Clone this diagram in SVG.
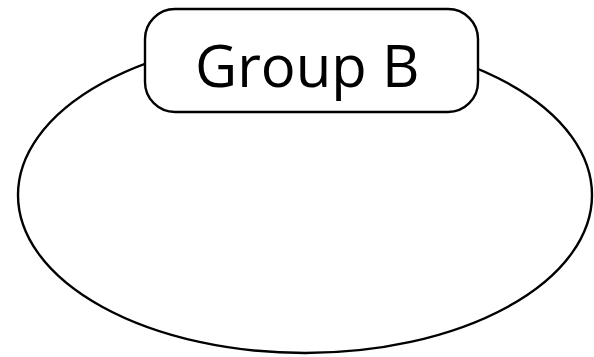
<svg xmlns="http://www.w3.org/2000/svg" width="594" height="357" viewBox="0 0 594 357">
<style>
.shape{fill:#fff;stroke:#000;stroke-width:2.4}
.label{font-family:"Open Sans","Noto Sans","DejaVu Sans",sans-serif;font-size:58px;fill:#000}
</style>
<rect width="594" height="357" fill="#fff"/>
<g id="ellipse"><ellipse class="shape" cx="305" cy="195" rx="287" ry="158"/></g>
<g id="groupB">
<rect class="shape" x="145" y="9" width="333" height="103" rx="30" ry="30"/>
<text class="label" x="195" y="87">Group B</text>
</g>
<g id="connectors"/>
</svg>
